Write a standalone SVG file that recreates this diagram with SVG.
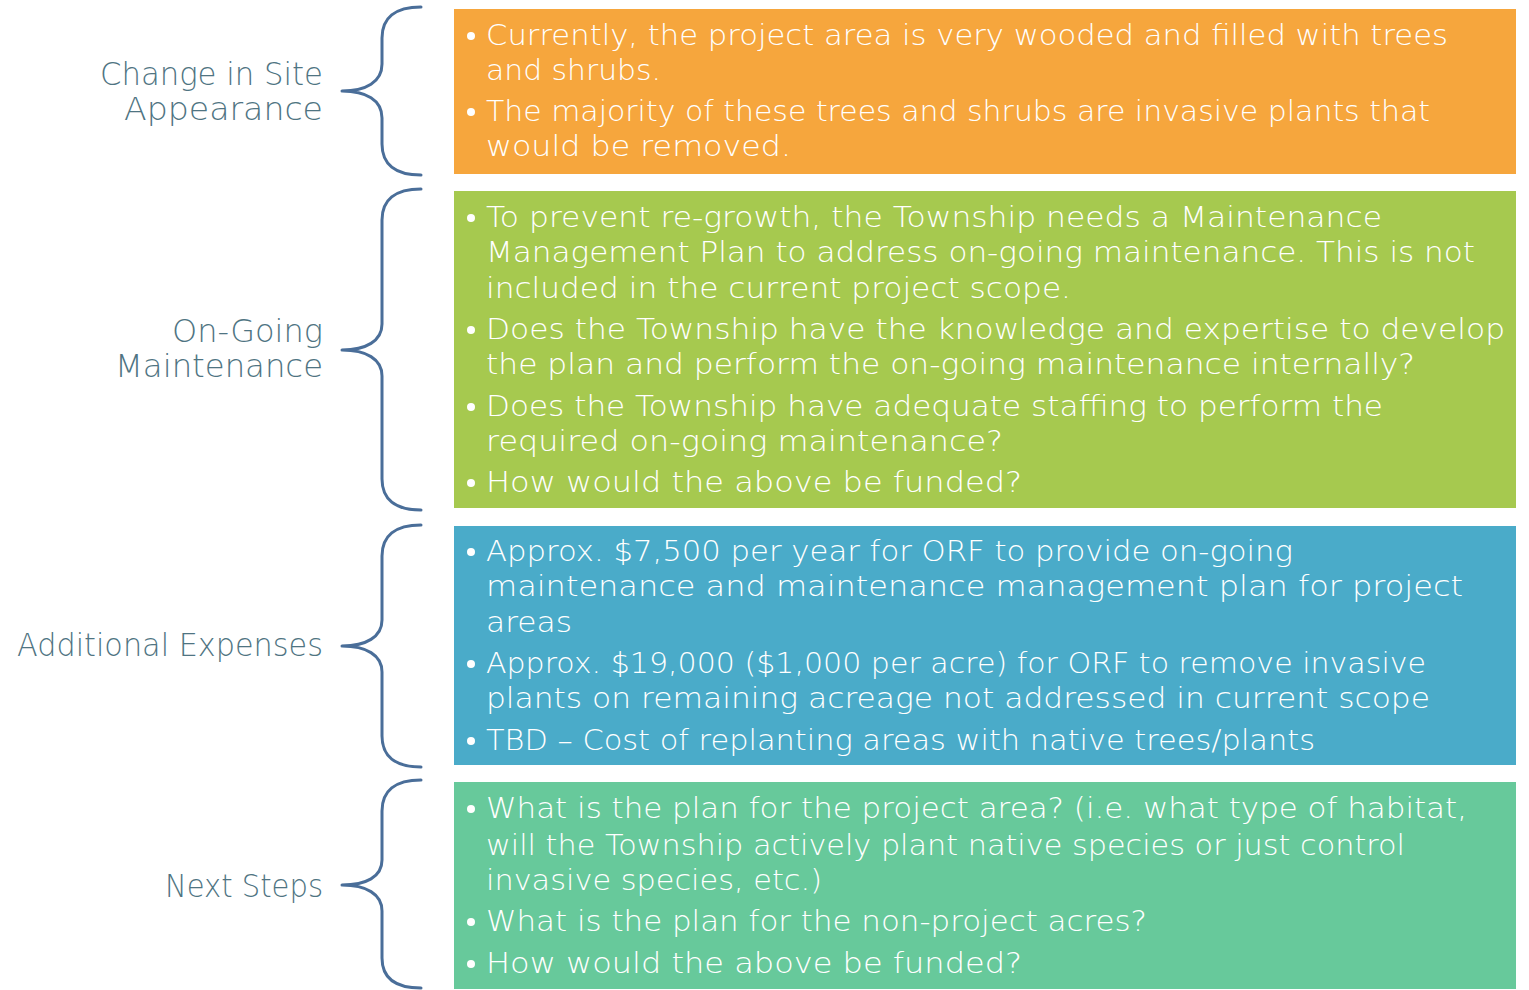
<svg xmlns="http://www.w3.org/2000/svg" width="1529" height="990" viewBox="0 0 1529 990">
<style>
.lbl{font-family:"DejaVu Sans","Liberation Sans",sans-serif;font-weight:200;font-size:32px;fill:#4F7482;text-anchor:end}
.t{font-family:"DejaVu Sans","Liberation Sans",sans-serif;font-weight:200;font-size:28.5px;fill:#FFFFFF}
.br{fill:none;stroke:#4A6E99;stroke-width:3;stroke-linecap:round;stroke-linejoin:round}
.dot{fill:#FFFFFF}
</style>
<rect width="1529" height="990" fill="#FFFFFF"/>
<g id="connectors">
<path class="br" d="M421,7 C395,7 382,18 382,38 L382,64 C382,82 366,91 342,91 C366,91 382,100 382,118 L382,144 C382,164 395,175 421,175"/>
<path class="br" d="M421,189 C395,189 382,200 382,220 L382,324 C382,341 366,350 342,350 C366,350 382,359 382,376 L382,479 C382,499 395,510 421,510"/>
<path class="br" d="M421,525 C395,525 382,536 382,556 L382,620 C382,637 366,646 342,646 C366,646 382,655 382,672 L382,736 C382,756 395,767 421,767"/>
<path class="br" d="M421,780 C395,780 382,791 382,811 L382,860 C382,877 366,885 342,885 C366,885 382,894 382,911 L382,958 C382,978 395,988 421,988"/>
</g>
<g id="label-change">
<text class="lbl" x="323" y="85" textLength="223" lengthAdjust="spacingAndGlyphs">Change in Site</text>
<text class="lbl" x="323" y="120" textLength="199" lengthAdjust="spacingAndGlyphs">Appearance</text>
</g>
<g id="label-ongoing">
<text class="lbl" x="323" y="342" textLength="151" lengthAdjust="spacingAndGlyphs">On-Going</text>
<text class="lbl" x="323" y="377" textLength="208" lengthAdjust="spacingAndGlyphs">Maintenance</text>
</g>
<g id="label-expenses">
<text class="lbl" x="323" y="656" textLength="306" lengthAdjust="spacingAndGlyphs">Additional Expenses</text>
</g>
<g id="label-next">
<text class="lbl" x="323" y="897" textLength="158" lengthAdjust="spacingAndGlyphs">Next Steps</text>
</g>
<g id="box-change">
<rect x="454" y="9" width="1062" height="165" fill="#F6A63D"/>
<circle class="dot" cx="471" cy="36" r="4"/>
<text class="t" x="486" y="45" textLength="962" lengthAdjust="spacingAndGlyphs">Currently, the project area is very wooded and filled with trees</text>
<text class="t" x="486" y="80" textLength="175" lengthAdjust="spacingAndGlyphs">and shrubs.</text>
<circle class="dot" cx="471" cy="112" r="4"/>
<text class="t" x="486" y="121" textLength="944" lengthAdjust="spacingAndGlyphs">The majority of these trees and shrubs are invasive plants that</text>
<text class="t" x="486" y="156" textLength="305" lengthAdjust="spacingAndGlyphs">would be removed.</text>
</g>
<g id="box-ongoing">
<rect x="454" y="191" width="1062" height="317" fill="#A6C94F"/>
<circle class="dot" cx="471" cy="218" r="4"/>
<text class="t" x="486" y="227" textLength="896" lengthAdjust="spacingAndGlyphs">To prevent re-growth, the Township needs a Maintenance</text>
<text class="t" x="486" y="262" textLength="989" lengthAdjust="spacingAndGlyphs">Management Plan to address on-going maintenance. This is not</text>
<text class="t" x="486" y="298" textLength="585" lengthAdjust="spacingAndGlyphs">included in the current project scope.</text>
<circle class="dot" cx="471" cy="330" r="4"/>
<text class="t" x="486" y="339" textLength="1019" lengthAdjust="spacingAndGlyphs">Does the Township have the knowledge and expertise to develop</text>
<text class="t" x="486" y="374" textLength="929" lengthAdjust="spacingAndGlyphs">the plan and perform the on-going maintenance internally?</text>
<circle class="dot" cx="471" cy="407" r="4"/>
<text class="t" x="486" y="416" textLength="897" lengthAdjust="spacingAndGlyphs">Does the Township have adequate staffing to perform the</text>
<text class="t" x="486" y="451" textLength="517" lengthAdjust="spacingAndGlyphs">required on-going maintenance?</text>
<circle class="dot" cx="471" cy="483" r="4"/>
<text class="t" x="486" y="492" textLength="536" lengthAdjust="spacingAndGlyphs">How would the above be funded?</text>
</g>
<g id="box-expenses">
<rect x="454" y="526" width="1062" height="239" fill="#4AABC9"/>
<circle class="dot" cx="471" cy="552" r="4"/>
<text class="t" x="486" y="561" textLength="807" lengthAdjust="spacingAndGlyphs">Approx. $7,500 per year for ORF to provide on-going</text>
<text class="t" x="486" y="596" textLength="977" lengthAdjust="spacingAndGlyphs">maintenance and maintenance management plan for project</text>
<text class="t" x="486" y="632" textLength="86" lengthAdjust="spacingAndGlyphs">areas</text>
<circle class="dot" cx="471" cy="664" r="4"/>
<text class="t" x="486" y="673" textLength="940" lengthAdjust="spacingAndGlyphs">Approx. $19,000 ($1,000 per acre) for ORF to remove invasive</text>
<text class="t" x="486" y="708" textLength="944" lengthAdjust="spacingAndGlyphs">plants on remaining acreage not addressed in current scope</text>
<circle class="dot" cx="471" cy="741" r="4"/>
<text class="t" x="486" y="750" textLength="829" lengthAdjust="spacingAndGlyphs">TBD – Cost of replanting areas with native trees/plants</text>
</g>
<g id="box-next">
<rect x="454" y="782" width="1062" height="207" fill="#67C99B"/>
<circle class="dot" cx="471" cy="809" r="4"/>
<text class="t" x="486" y="818" textLength="981" lengthAdjust="spacingAndGlyphs">What is the plan for the project area? (i.e. what type of habitat,</text>
<text class="t" x="486" y="855" textLength="919" lengthAdjust="spacingAndGlyphs">will the Township actively plant native species or just control</text>
<text class="t" x="486" y="890" textLength="336" lengthAdjust="spacingAndGlyphs">invasive species, etc.)</text>
<circle class="dot" cx="471" cy="922" r="4"/>
<text class="t" x="486" y="931" textLength="661" lengthAdjust="spacingAndGlyphs">What is the plan for the non-project acres?</text>
<circle class="dot" cx="471" cy="964" r="4"/>
<text class="t" x="486" y="973" textLength="536" lengthAdjust="spacingAndGlyphs">How would the above be funded?</text>
</g>
</svg>
